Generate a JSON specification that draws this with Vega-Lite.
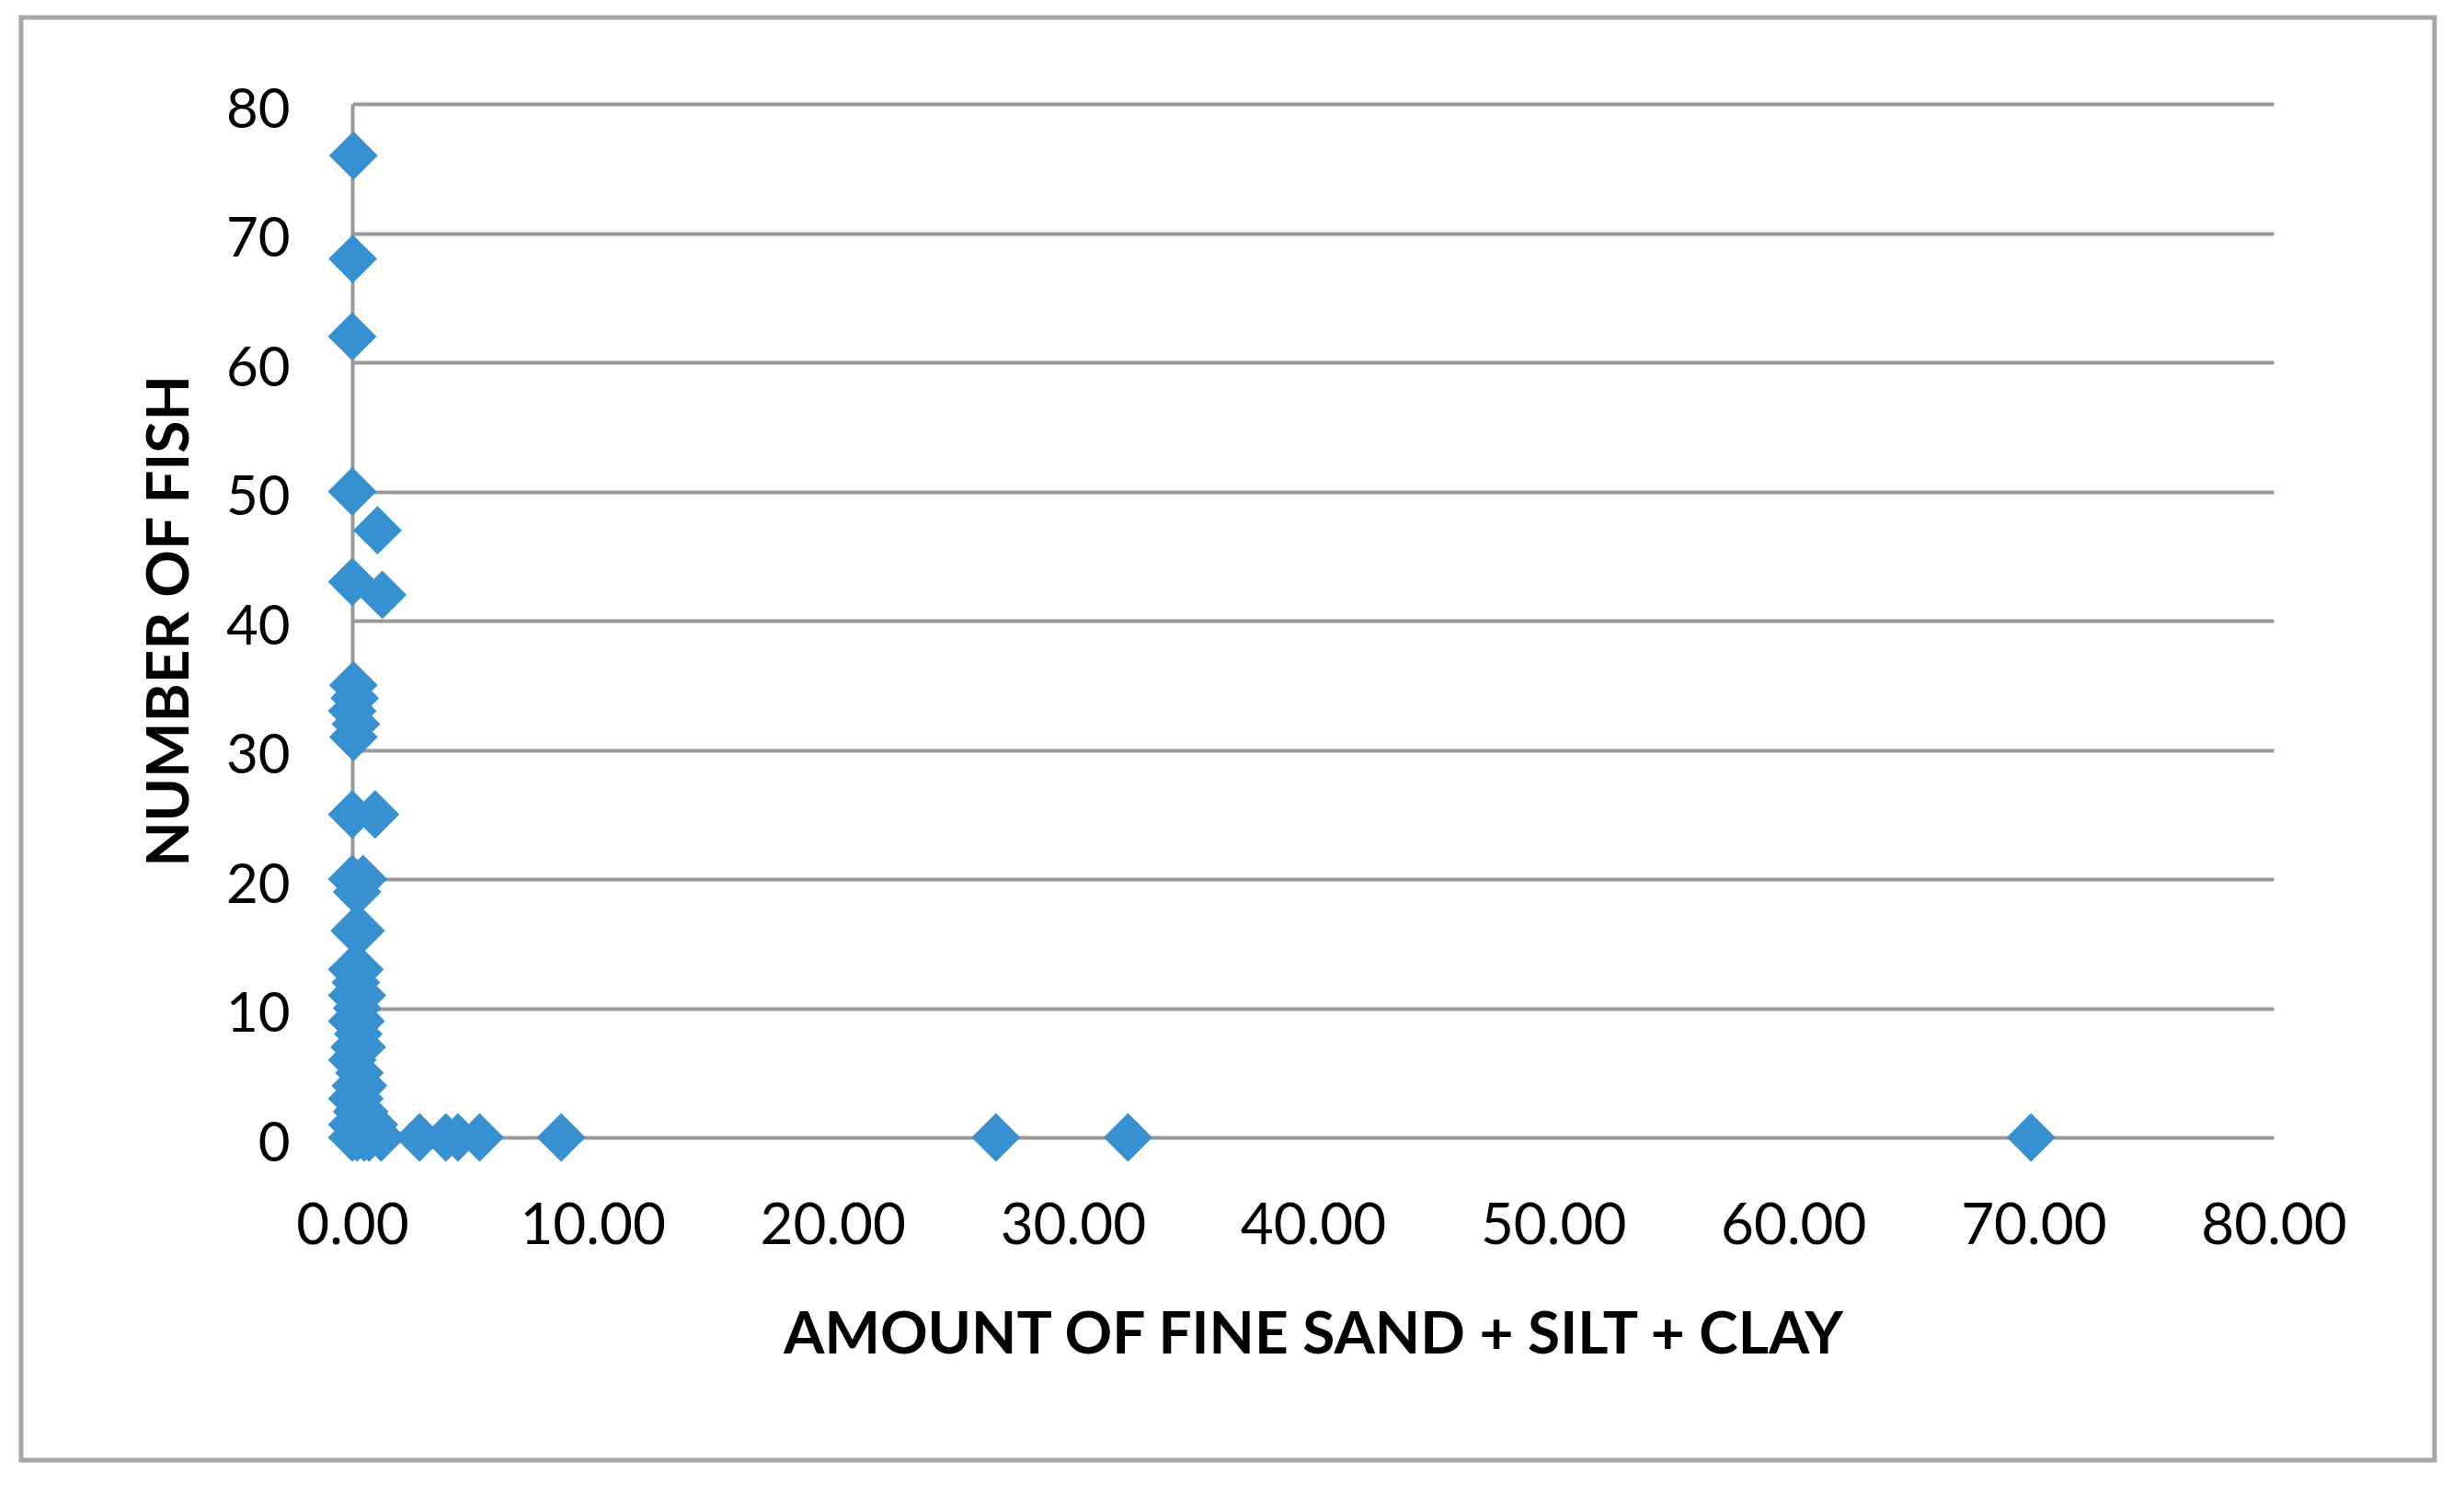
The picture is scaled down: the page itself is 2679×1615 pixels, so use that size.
{
  "$schema": "https://vega.github.io/schema/vega-lite/v6.json",
  "autosize": {"type": "none"},
  "width": 2089,
  "height": 1124,
  "padding": {"left": 383, "top": 113, "right": 207, "bottom": 378},
  "background": "white",
  "config": {
    "view": {"stroke": null},
    "font": "Lato",
    "axis": {
      "labelFont": "Lato",
      "titleFont": "Lato",
      "labelColor": "#000000",
      "titleColor": "#000000",
      "labelFontSize": 60,
      "titleFontSize": 64,
      "titleFontWeight": "bold",
      "ticks": false,
      "tickSize": 0,
      "labelFlush": false,
      "labelOverlap": false,
      "gridColor": "#999999",
      "gridWidth": 4,
      "gridOpacity": 1,
      "domainColor": "#999999",
      "domainWidth": 4
    }
  },
  "datasets": {
    "pts": [
      {"fines": 0.05, "fish": 76},
      {"fines": 0.02, "fish": 68},
      {"fines": 0.0, "fish": 62},
      {"fines": 0.0, "fish": 50},
      {"fines": 1.05, "fish": 47},
      {"fines": 0.0, "fish": 43},
      {"fines": 1.25, "fish": 42},
      {"fines": 0.05, "fish": 35},
      {"fines": 0.1, "fish": 34},
      {"fines": 0.0, "fish": 33},
      {"fines": 0.15, "fish": 32},
      {"fines": 0.05, "fish": 31},
      {"fines": 0.0, "fish": 25},
      {"fines": 0.95, "fish": 25},
      {"fines": 0.0, "fish": 20},
      {"fines": 0.45, "fish": 20},
      {"fines": 0.2, "fish": 19},
      {"fines": 0.1, "fish": 16},
      {"fines": 0.35, "fish": 16},
      {"fines": 0.0, "fish": 13},
      {"fines": 0.3, "fish": 13},
      {"fines": 0.15, "fish": 12},
      {"fines": 0.4, "fish": 11},
      {"fines": 0.0, "fish": 11},
      {"fines": 0.2, "fish": 10},
      {"fines": 0.35, "fish": 9},
      {"fines": 0.0, "fish": 9},
      {"fines": 0.25, "fish": 8},
      {"fines": 0.1, "fish": 7},
      {"fines": 0.4, "fish": 7},
      {"fines": 0.0, "fish": 6},
      {"fines": 0.3, "fish": 5},
      {"fines": 0.15, "fish": 4},
      {"fines": 0.45, "fish": 4},
      {"fines": 0.0, "fish": 3},
      {"fines": 0.3, "fish": 3},
      {"fines": 0.2, "fish": 2},
      {"fines": 0.5, "fish": 2},
      {"fines": 0.0, "fish": 1},
      {"fines": 0.35, "fish": 1},
      {"fines": 0.9, "fish": 1},
      {"fines": 0.0, "fish": 0},
      {"fines": 0.2, "fish": 0},
      {"fines": 0.5, "fish": 0},
      {"fines": 0.7, "fish": 0},
      {"fines": 1.2, "fish": 0},
      {"fines": 2.8, "fish": 0},
      {"fines": 3.9, "fish": 0},
      {"fines": 4.4, "fish": 0},
      {"fines": 5.3, "fish": 0},
      {"fines": 8.7, "fish": 0},
      {"fines": 26.8, "fish": 0},
      {"fines": 32.3, "fish": 0},
      {"fines": 69.9, "fish": 0}
    ],
    "frame": [{"x0": -13.79, "x1": 86.7, "y0": 86.69, "y1": -24.98}]
  },
  "layer": [
    {
      "data": {"name": "frame"},
      "mark": {"type": "rect", "fill": null, "stroke": "#a6a6a6", "strokeWidth": 5, "clip": false},
      "encoding": {
        "x": {"field": "x0", "type": "quantitative", "scale": {"domain": [0, 80]}},
        "x2": {"field": "x1"},
        "y": {"field": "y0", "type": "quantitative", "scale": {"domain": [0, 80]}},
        "y2": {"field": "y1"}
      }
    },
    {
      "data": {"name": "pts"},
      "mark": {"type": "point", "shape": "diamond", "filled": true, "size": 2800, "color": "#3791D0", "opacity": 1},
      "encoding": {
        "x": {
          "field": "fines",
          "type": "quantitative",
          "scale": {"domain": [0, 80], "nice": false, "zero": true},
          "axis": {
            "title": "AMOUNT OF FINE SAND + SILT + CLAY",
            "values": [0, 10, 20, 30, 40, 50, 60, 70, 80],
            "format": ".2f",
            "grid": false,
            "domain": false,
            "labelPadding": 66,
            "titlePadding": 56,
            "labelFontSize": 62
          }
        },
        "y": {
          "field": "fish",
          "type": "quantitative",
          "scale": {"domain": [0, 80], "nice": false},
          "axis": {
            "title": "NUMBER OF FISH",
            "values": [0, 10, 20, 30, 40, 50, 60, 70, 80],
            "grid": true,
            "domain": true,
            "labelPadding": 68,
            "labelOffset": 7,
            "titlePadding": 28
          }
        }
      }
    }
  ]
}
